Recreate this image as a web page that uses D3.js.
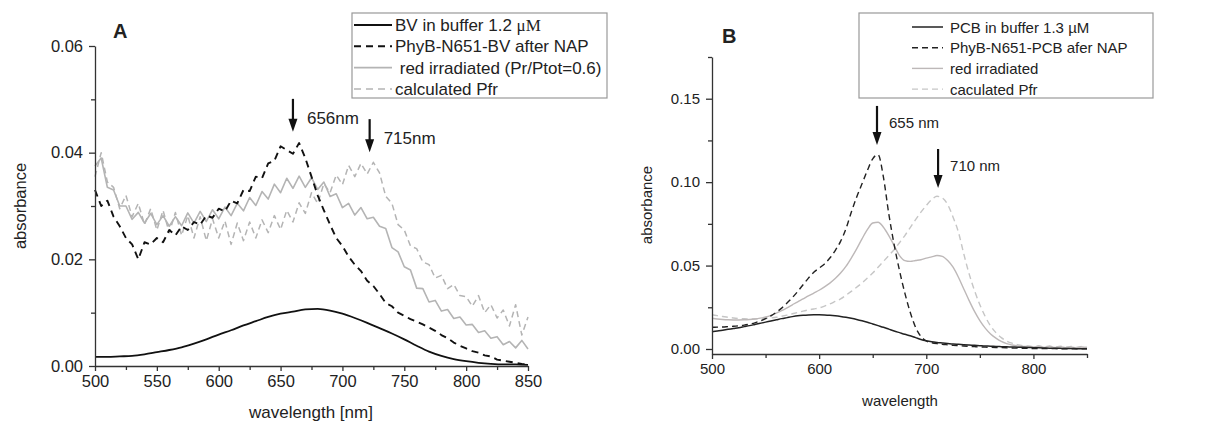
<!DOCTYPE html>
<html>
<head>
<meta charset="utf-8">
<script src="https://cdn.jsdelivr.net/npm/d3@7"></script>
<style>
body{margin:0;background:#fff}
svg{display:block}
text{font-family:"Liberation Sans",Arial,sans-serif;fill:#222}
</style>
</head>
<body>
<div id="graph"></div>
<script>
// ---- panel A data (5 nm grid, noisy traces) ----
var wlA = d3.range(500, 851, 5);
var wlA10 = d3.range(500, 851, 10);
var bvBuffer = [0.0017,0.0017,0.0018,0.0019,0.0022,0.0026,0.0030,0.0035,0.0042,0.0050,0.0059,0.0067,0.0076,0.0084,0.0092,0.0098,0.0102,0.0106,0.0107,0.0104,0.0098,0.0090,0.0081,0.0071,0.0061,0.0050,0.0038,0.0027,0.0019,0.0013,0.0009,0.0006,0.0004,0.0003,0.0003,0.0002];
var phyBV = [0.0330,0.0300,0.0310,0.0280,0.0262,0.0240,0.0228,0.0200,0.0232,0.0228,0.0240,0.0232,0.0255,0.0245,0.0262,0.0255,0.0270,0.0265,0.0282,0.0278,0.0295,0.0290,0.0310,0.0305,0.0330,0.0328,0.0355,0.0352,0.0380,0.0385,0.0412,0.0405,0.0398,0.0418,0.0390,0.0355,0.0320,0.0292,0.0265,0.0240,0.0225,0.0205,0.0190,0.0178,0.0160,0.0150,0.0135,0.0118,0.0112,0.0100,0.0094,0.0088,0.0083,0.0078,0.0072,0.0066,0.0058,0.0052,0.0044,0.0038,0.0033,0.0028,0.0025,0.0020,0.0018,0.0012,0.0010,0.0008,0.0006,0.0004,0.0003];
var redIrrA = [0.0375,0.0390,0.0335,0.0330,0.0300,0.0300,0.0275,0.0288,0.0268,0.0286,
    0.0265,0.0282,0.0262,0.0280,0.0263,0.0287,0.0268,0.0290,0.0271,0.0293,
    0.0276,0.0298,0.0282,0.0305,0.0291,0.0316,0.0301,0.0327,0.0313,0.0341,
    0.0325,0.0352,0.0333,0.0356,0.0335,0.0353,0.0331,0.0345,0.0318,0.0323,
    0.0297,0.0305,0.0283,0.0297,0.0276,0.0279,0.0262,0.0258,0.0222,0.0214,
    0.0186,0.0180,0.0146,0.0145,0.0120,0.0123,0.0103,0.0106,0.0089,0.0092,
    0.0077,0.0078,0.0063,0.0066,0.0052,0.0055,0.0040,0.0046,0.0034,0.0048,0.0032];
var pfrA = [0.0355,0.0400,0.0345,0.0335,0.0295,0.0320,0.0280,0.0305,0.0265,0.0295,
    0.0255,0.0292,0.0250,0.0288,0.0245,0.0282,0.0240,0.0280,0.0235,0.0276,
    0.0240,0.0272,0.0228,0.0268,0.0235,0.0270,0.0240,0.0274,0.0250,0.0282,
    0.0256,0.0292,0.0270,0.0306,0.0286,0.0325,0.0305,0.0342,0.0325,0.0358,
    0.0340,0.0376,0.0355,0.0380,0.0360,0.0382,0.0362,0.0318,0.0305,0.0265,
    0.0255,0.0225,0.0220,0.0195,0.0190,0.0165,0.0170,0.0145,0.0153,0.0132,
    0.0130,0.0112,0.0132,0.0100,0.0115,0.0090,0.0105,0.0075,0.0115,0.0058,0.0092];

// ---- panel B data (5 nm grid) ----
var wlB = d3.range(500, 851, 5);
var pcbBuffer = [0.0104,0.0108,0.0113,0.0118,0.0123,0.0128,0.0134,0.0140,0.0147,0.0154,0.0161,0.0168,0.0175,0.0182,0.0188,0.0194,0.0199,0.0202,0.0204,0.0205,0.0205,0.0204,0.0202,0.0199,0.0195,0.0190,0.0184,0.0177,0.0169,0.0160,0.0150,0.0140,0.0130,0.0119,0.0108,0.0098,0.0088,0.0079,0.0068,0.0057,0.0049,0.0043,0.0039,0.0036,0.0033,0.0030,0.0028,0.0026,0.0024,0.0022,0.0020,0.0018,0.0017,0.0015,0.0014,0.0013,0.0012,0.0011,0.0010,0.0009,0.0008,0.0007,0.0006,0.0005,0.0005,0.0004,0.0003,0.0003,0.0002,0.0002,0.0002];
var phyPCB = [0.0130,0.0131,0.0132,0.0134,0.0136,0.0139,0.0143,0.0149,0.0157,0.0168,0.0182,0.0199,0.0220,0.0245,0.0275,0.0308,0.0345,0.0385,0.0425,0.0460,0.0485,0.0510,0.0545,0.0590,0.0645,0.0720,0.0820,0.0910,0.0990,0.1070,0.1140,0.1165,0.1030,0.0810,0.0625,0.0470,0.0335,0.0220,0.0130,0.0075,0.0048,0.0038,0.0032,0.0028,0.0025,0.0022,0.0020,0.0018,0.0016,0.0014,0.0012,0.0011,0.0010,0.0009,0.0008,0.0007,0.0006,0.0005,0.0004,0.0004,0.0003,0.0003,0.0002,0.0002,0.0002,0.0001,0.0001,0.0001,0.0001,0.0001,0.0001];
var redIrrB = [0.0184,0.0180,0.0177,0.0175,0.0174,0.0174,0.0175,0.0177,0.0180,0.0185,0.0192,0.0202,0.0215,0.0230,0.0247,0.0265,0.0283,0.0300,0.0318,0.0335,0.0352,0.0372,0.0395,0.0422,0.0455,0.0495,0.0545,0.0600,0.0660,0.0715,0.0755,0.0760,0.0730,0.0680,0.0620,0.0560,0.0530,0.0525,0.0530,0.0535,0.0545,0.0552,0.0560,0.0555,0.0530,0.0490,0.0430,0.0360,0.0290,0.0225,0.0170,0.0125,0.0090,0.0065,0.0045,0.0032,0.0024,0.0018,0.0015,0.0016,0.0012,0.0015,0.0010,0.0016,0.0009,0.0014,0.0008,0.0013,0.0007,0.0012,0.0008];
var pfrB = [0.0205,0.0200,0.0195,0.0190,0.0186,0.0183,0.0181,0.0180,0.0180,0.0181,0.0183,0.0186,0.0190,0.0196,0.0203,0.0211,0.0219,0.0227,0.0234,0.0240,0.0246,0.0257,0.0270,0.0285,0.0300,0.0322,0.0345,0.0370,0.0395,0.0425,0.0455,0.0490,0.0525,0.0560,0.0595,0.0637,0.0680,0.0728,0.0775,0.0820,0.0860,0.0895,0.0915,0.0905,0.0865,0.0790,0.0700,0.0570,0.0450,0.0350,0.0265,0.0195,0.0138,0.0098,0.0068,0.0048,0.0035,0.0026,0.0020,0.0018,0.0014,0.0019,0.0012,0.0018,0.0011,0.0017,0.0010,0.0016,0.0009,0.0015,0.0010];

// ---- ticks and labels ----
var xTicksA = [500,550,600,650,700,750,800,850];
var xMinorA = [525,575,625,675,725,775,825];
var yTicksA = [0,0.02,0.04,0.06];
var yMinorA = [0.01,0.03,0.05];
var xTicksB = [500,600,700,800];
var xMinorB = [550,650,750,850];
var yTicksB = [0,0.05,0.10,0.15];
var yMinorB = [0.025,0.075,0.125,0.175];

var legendA = ["BV in buffer 1.2 ", "PhyB-N651-BV after NAP", " red irradiated (Pr/Ptot=0.6)", "calculated Pfr"];
var legendB = ["PCB in buffer 1.3 \u00b5M", "PhyB-N651-PCB afer NAP", "red irradiated", "caculated Pfr"];
// arrows: wavelength, absorbance at tip, label
var peaksA = [[660, 0.0439, "656nm"], [722, 0.0401, "715nm"]];
var peaksB = [[654, 0.1223, "655 nm"], [711, 0.0965, "710 nm"]];

var svgWidth = 1205, svgHeight = 423;
var axisColor = "#333";
var grayA = "#b4b4b4";
var grayB = "#bdb8b8";
var grayB2 = "#c6c6c6";

var $svg = d3.select("#graph").append("svg")
    .attr("width", svgWidth)
    .attr("height", svgHeight);

function drawAxes(g, x, y, xt, xm, yt, ym, yfmt, fs){
    var x0 = y.range()[0];
    g.append("g").attr("transform", `translate(0,${x0})`)
        .call(d3.axisBottom(x).tickValues(xt).tickSize(5).tickSizeOuter(0).tickPadding(4).tickFormat(d3.format("d")));
    g.append("g").attr("transform", `translate(0,${x0})`)
        .call(d3.axisBottom(x).tickValues(xm).tickSize(4).tickFormat(""))
        .select(".domain").remove();
    g.append("g").attr("transform", `translate(${x.range()[0]},0)`)
        .call(d3.axisLeft(y).tickValues(yt).tickSize(6).tickSizeOuter(0).tickPadding(6).tickFormat(d3.format(yfmt)));
    g.append("g").attr("transform", `translate(${x.range()[0]},0)`)
        .call(d3.axisLeft(y).tickValues(ym).tickSize(4).tickFormat(""))
        .select(".domain").remove();
    g.selectAll(".domain, .tick line").attr("stroke", axisColor).attr("stroke-width", 1.3);
    g.selectAll(".tick text").attr("font-size", fs).attr("fill", "#222")
        .attr("font-family", "'Liberation Sans', Arial, sans-serif");
}

function drawLine(g, x, y, xs, ys, color, width, dash, curve){
    var pts = xs.map((d,i)=>[d, ys[i]]);
    g.append("path")
        .datum(pts)
        .attr("d", d3.line().x(d=>x(d[0])).y(d=>y(d[1])).curve(curve || d3.curveLinear))
        .attr("fill", "none")
        .attr("stroke", color)
        .attr("stroke-width", width)
        .attr("stroke-dasharray", dash || null)
        .attr("stroke-linejoin", "round");
}

function drawArrows(g, x, y, peaks, len, fs, dx, dy){
    peaks.forEach(p=>{
        var px = x(p[0]), py = y(p[1]);
        g.append("line")
            .attr("x1", px).attr("x2", px)
            .attr("y1", py - len).attr("y2", py - 10)
            .attr("stroke", "#111").attr("stroke-width", 2.2);
        g.append("path")
            .attr("d", `M${px-4.5},${py-13} L${px+4.5},${py-13} L${px},${py} Z`)
            .attr("fill", "#111");
        g.append("text")
            .attr("x", px + dx).attr("y", py + dy)
            .attr("font-size", fs)
            .text(p[2]);
    });
}

// ================= panel A =================
var xA = d3.scaleLinear().domain([500, 850]).range([95, 528]);
var yA = d3.scaleLinear().domain([0, 0.06]).range([366, 46]);
var gA = $svg.append("g");

drawLine(gA, xA, yA, wlA, pfrA, grayA, 1.5, "6,4");
drawLine(gA, xA, yA, wlA, redIrrA, grayA, 1.6);
drawLine(gA, xA, yA, wlA, phyBV, "#111", 1.9, "7,5");
drawLine(gA, xA, yA, wlA10, bvBuffer, "#111", 1.8, null, d3.curveMonotoneX);

drawAxes(gA, xA, yA, xTicksA, xMinorA, yTicksA, yMinorA, ".2f", 16.5);

gA.append("text").attr("x", 113).attr("y", 38)
    .attr("font-size", 20).attr("font-weight", "bold").text("A");
gA.append("text").attr("transform", "translate(26,206) rotate(-90)")
    .attr("text-anchor", "middle").attr("font-size", 16.5).text("absorbance");
gA.append("text").attr("x", 311).attr("y", 418)
    .attr("text-anchor", "middle").attr("font-size", 17).text("wavelength [nm]");

drawArrows(gA, xA, yA, peaksA, 33, 17, 14, -8);

// legend A
var legA = gA.append("g");
legA.append("rect").attr("x", 352).attr("y", 13).attr("width", 255).attr("height", 85)
    .attr("fill", "#fff").attr("stroke", "#999").attr("stroke-width", 1.2);
var legStylesA = [["#111", 1.8, null], ["#111", 1.9, "7,5"], [grayA, 1.6, null], [grayA, 1.5, "7,5"]];
legendA.forEach((t,i)=>{
    var ly = 25 + i*21.3;
    legA.append("line").attr("x1", 354).attr("x2", 392).attr("y1", ly).attr("y2", ly)
        .attr("stroke", legStylesA[i][0]).attr("stroke-width", legStylesA[i][1])
        .attr("stroke-dasharray", legStylesA[i][2]);
    var tx = legA.append("text").attr("x", 395).attr("y", ly + 6).attr("font-size", 17)
        .attr("xml:space", "preserve").text(t);
    if (i == 0) tx.append("tspan").attr("font-family", "'Liberation Serif', 'Times New Roman', serif").text("\u03bcM");
});

// ================= panel B =================
var xB = d3.scaleLinear().domain([500, 850]).range([712, 1087]);
var yB = d3.scaleLinear().domain([-0.003, 0.175]).range([354, 57]);
var gB = $svg.append("g");

drawLine(gB, xB, yB, wlB, pfrB, grayB2, 1.4, "6,4", d3.curveMonotoneX);
drawLine(gB, xB, yB, wlB, redIrrB, grayB, 1.4, null, d3.curveMonotoneX);
drawLine(gB, xB, yB, wlB, phyPCB, "#222", 1.4, "6,4", d3.curveMonotoneX);
drawLine(gB, xB, yB, wlB, pcbBuffer, "#222", 1.5, null, d3.curveMonotoneX);

drawAxes(gB, xB, yB, xTicksB, xMinorB, yTicksB, yMinorB, ".2f", 15);

gB.append("text").attr("x", 722).attr("y", 43)
    .attr("font-size", 20).attr("font-weight", "bold").text("B");
gB.append("text").attr("transform", "translate(652,205) rotate(-90)")
    .attr("text-anchor", "middle").attr("font-size", 15).text("absorbance");
gB.append("text").attr("x", 900).attr("y", 406)
    .attr("text-anchor", "middle").attr("font-size", 15).text("wavelength");

drawArrows(gB, xB, yB, peaksB, 39, 15, 12, -17);

var legB = gB.append("g");
legB.append("rect").attr("x", 859).attr("y", 13).attr("width", 294).attr("height", 85)
    .attr("fill", "#fff").attr("stroke", "#999").attr("stroke-width", 1.2);
var legStylesB = [["#222", 1.5, null], ["#222", 1.5, "6,4"], [grayB, 1.4, null], [grayB2, 1.4, "6,4"]];
legendB.forEach((t,i)=>{
    var ly = 27 + i*20.7;
    legB.append("line").attr("x1", 912).attr("x2", 943).attr("y1", ly).attr("y2", ly)
        .attr("stroke", legStylesB[i][0]).attr("stroke-width", legStylesB[i][1])
        .attr("stroke-dasharray", legStylesB[i][2]);
    legB.append("text").attr("x", 950).attr("y", ly + 5.5).attr("font-size", 15).text(t);
});
</script>
</body>
</html>
